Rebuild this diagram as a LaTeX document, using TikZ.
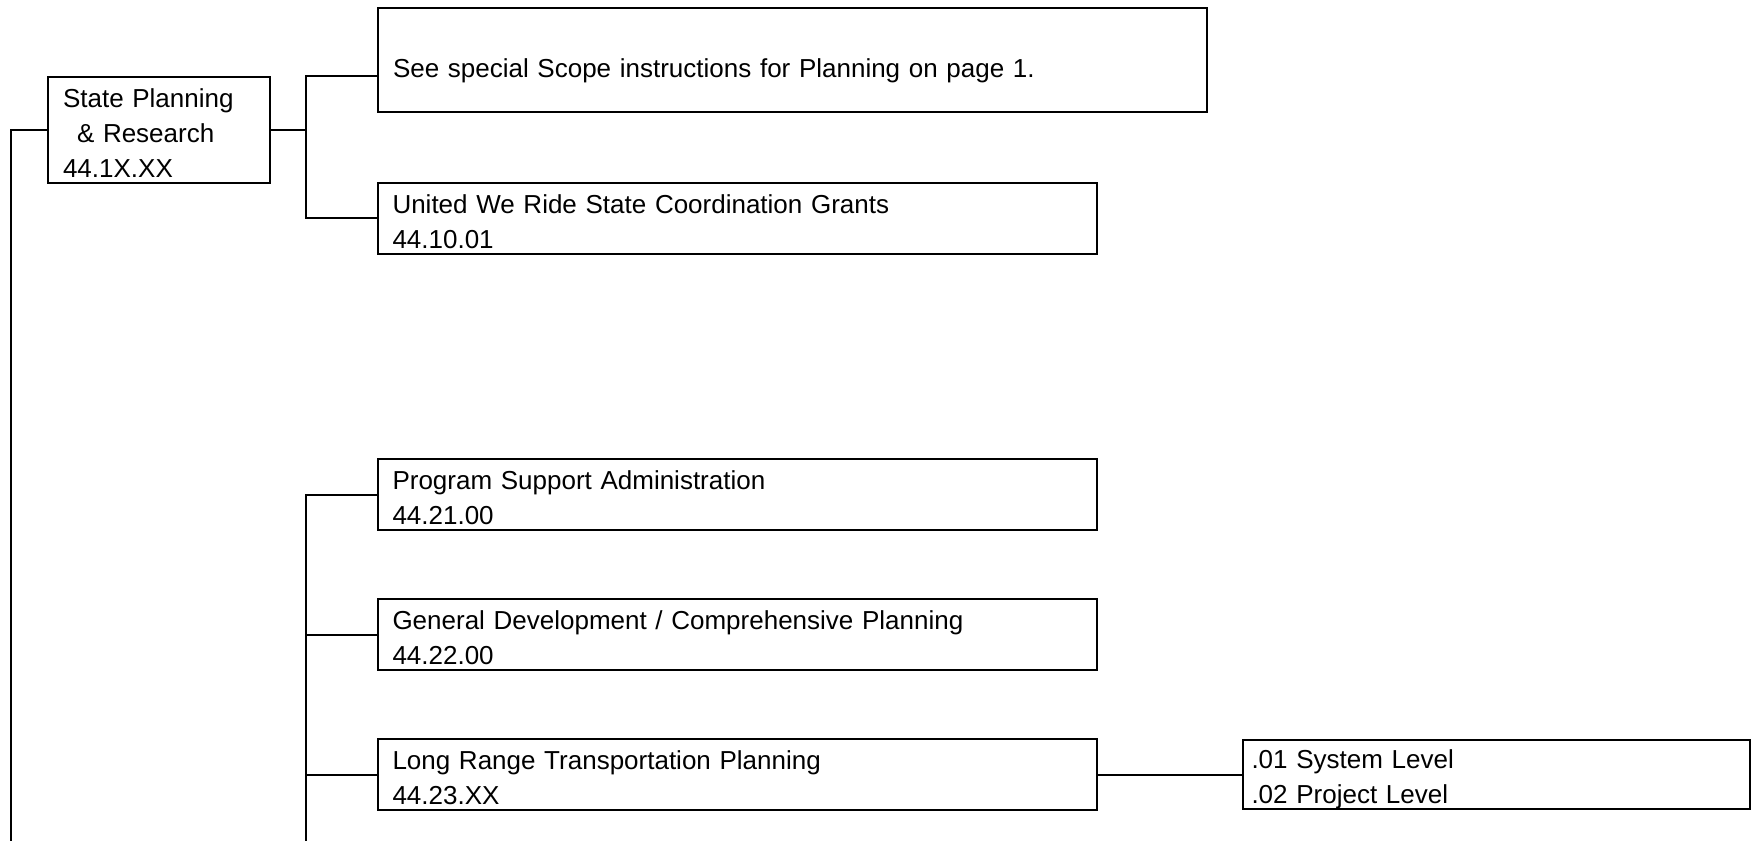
\documentclass[tikz,border=0pt]{standalone}
\usepackage{fontspec}
\setmainfont{Liberation Sans}
\usepackage{tikz}
\usetikzlibrary{positioning, calc}

\begin{document}
\begin{tikzpicture}[
  x=0.5pt, y=-0.5pt,
  font=\fontsize{13}{17.5}\selectfont,
  every node/.style={align=left},
  blk/.style={draw, line width=1pt, inner xsep=7.5pt, inner ysep=0pt,
              minimum height=35.5pt, text height=12.5pt},
  ln/.style={line width=1pt}
]
\useasboundingbox (0,0) rectangle (1754,841);

\node[blk, text width=96pt, minimum height=53pt, text height=12.8pt] (spr) at (159,129.5)
  {State Planning\\\hspace*{7pt}\& Research\\44.1X.XX};
\node[blk, text width=399.5pt, minimum height=52pt, text height=17.8pt, text depth=0pt] (scope) at (792.5,59.5)
  {See special Scope instructions for Planning on page 1.};
\node[blk, text width=344.5pt] (uwr) at (737,218.3)
  {United We Ride State Coordination Grants\\44.10.01};
\node[blk, text width=344.5pt] (psa) at (737,494.5)
  {Program Support Administration\\44.21.00};
\node[blk, text width=344.5pt] (gdp) at (737,634.5)
  {General Development / Comprehensive Planning\\44.22.00};
\node[blk, text width=344.5pt] (lrtp) at (737,774.5)
  {Long Range Transportation Planning\\44.23.XX};
\node[blk, text width=244.75pt, inner xsep=4.5pt, minimum height=34.5pt, text height=14pt] (lvl) at (1496.25,774.5)
  {.01 System Level\\.02 Project Level};

\coordinate (jn1) at (305.7,0);
\coordinate (jn2) at (305.7,841);
\coordinate (lft) at (11,841);

\draw[ln] (spr.east) -- (spr.east -| jn1);
\draw[ln] (scope.west |- spr.north) -| (uwr.west -| jn1) -- (uwr.west);
\draw[ln] (spr.west) -| (lft);

\draw[ln] (psa.west) -| (jn2);
\draw[ln] (gdp.west) -- (gdp.west -| jn2);
\draw[ln] (lrtp.west) -- (lrtp.west -| jn2);
\draw[ln] (lrtp.east) -- (lvl.west);
\end{tikzpicture}
\end{document}
